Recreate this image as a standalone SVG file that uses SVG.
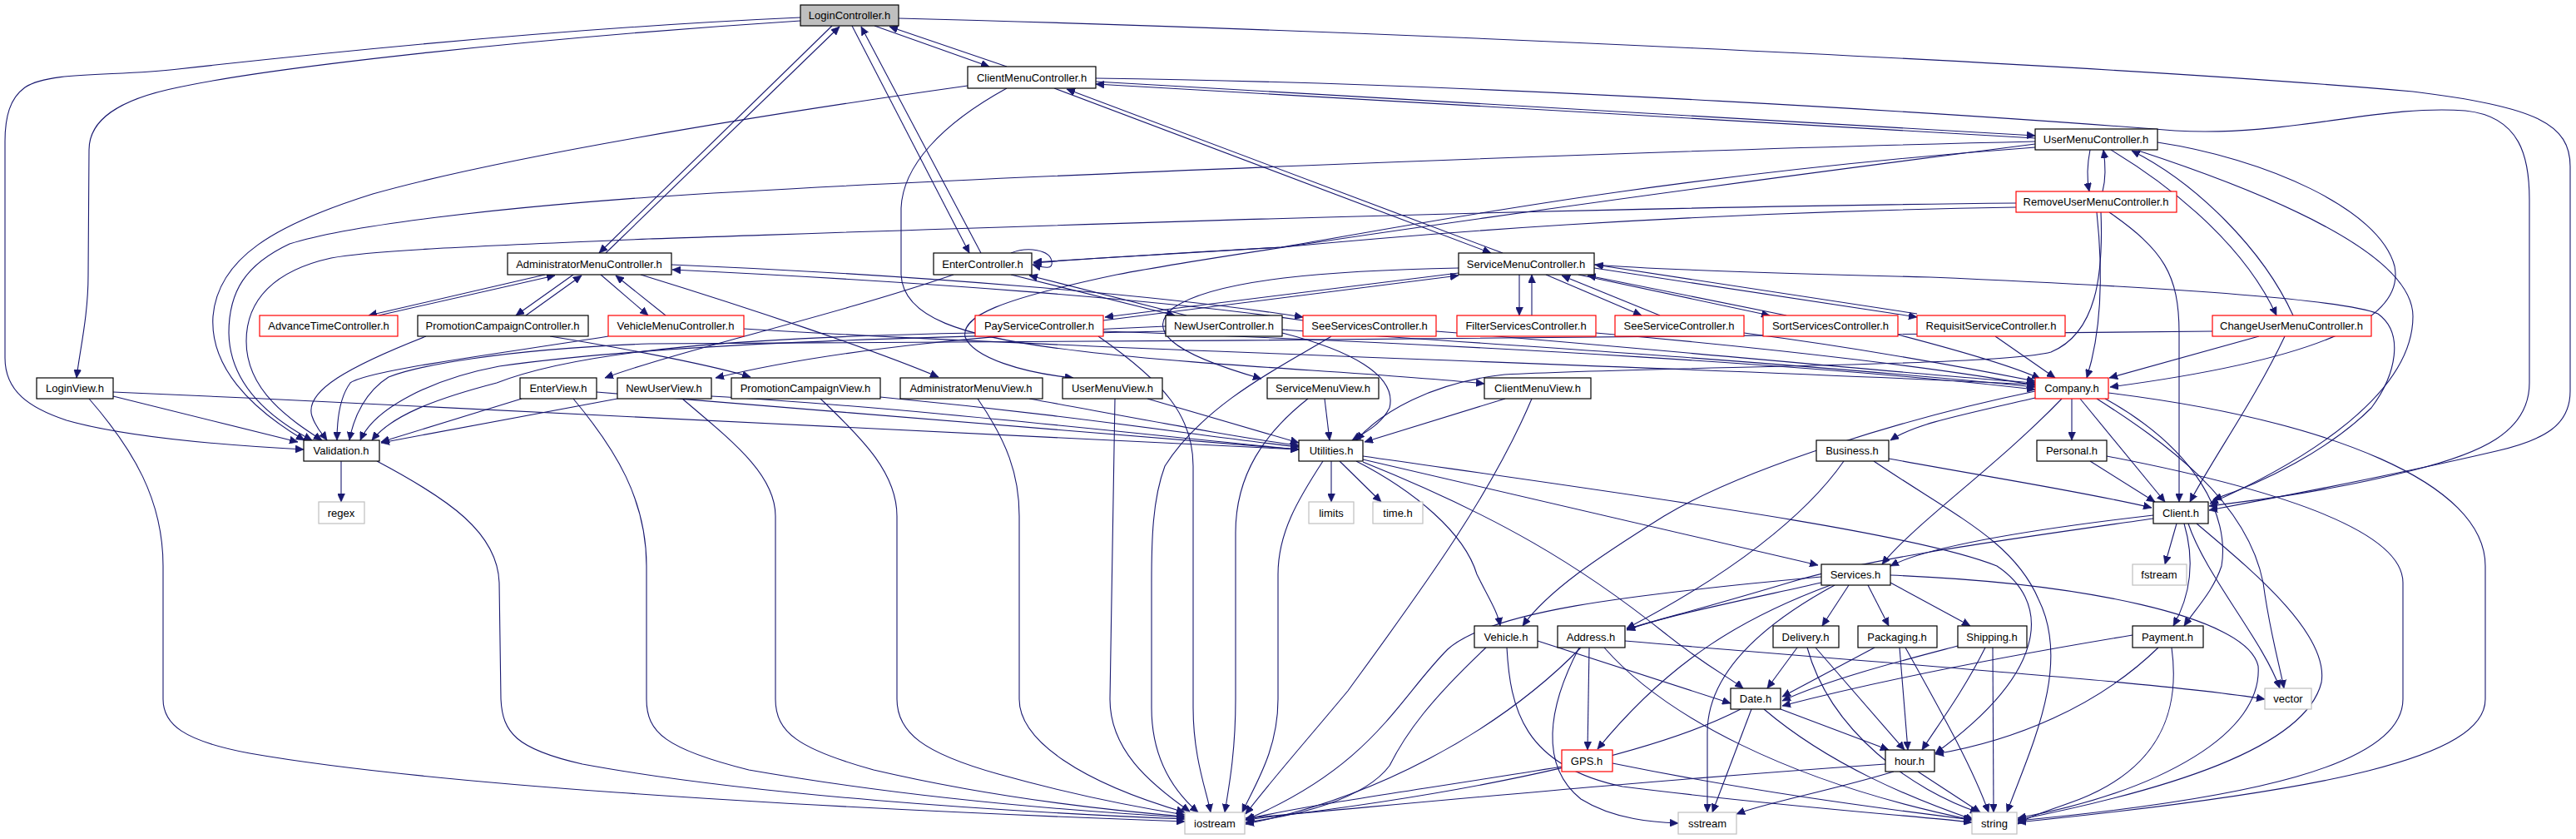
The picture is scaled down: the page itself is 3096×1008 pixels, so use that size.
<svg xmlns="http://www.w3.org/2000/svg" width="3096" height="1008" viewBox="0 0 3096 1008">
<defs>
<marker id="ah" markerUnits="userSpaceOnUse" markerWidth="11" markerHeight="9" refX="10" refY="4.5" orient="auto">
<path d="M0,0 L10,4.5 L0,9 Z" fill="#191970" stroke="#191970" stroke-width="0.6"/>
</marker>
</defs>
<style>
.n rect{fill:#fff;stroke:#000;stroke-width:1.2}
.n.root rect{fill:#bfbfbf}
.n.red rect{stroke:#ff0000}
.n.gray rect{stroke:#bfbfbf}
.n text{font-family:"Liberation Sans",Arial,sans-serif;font-size:13px;text-anchor:middle;fill:#000}
#edges path{fill:none;stroke:#191970;stroke-width:1.1;marker-end:url(#ah)}
</style>
<rect width="3096" height="1008" fill="#fff"/>
<g id="edges">
<path d="M1051,31 L1189,80"/>
<path d="M1210,80 L1069,32"/>
<path d="M1000,31 L720,304"/>
<path d="M728,304 L1009,32"/>
<path d="M1024,31 L1165,304"/>
<path d="M1179,304 L1035,32"/>
<path d="M1215,304 C1235,296 1262,300 1264,314 C1266,324 1256,322 1241,318"/>
<path d="M962,25 C650,45 330,80 214,105 C140,120 107,145 107,180 L106,330 C106,380 96,420 92,454"/>
<path d="M962,21 C650,35 330,70 214,83 C140,92 60,85 30,105 C12,118 6,140 6,170 L6,430 C6,470 35,490 80,505 C150,525 270,535 365,540"/>
<path d="M1080,22 C1600,35 2500,75 2900,110 C3050,128 3089,150 3089,200 L3089,470 C3089,510 3060,528 3000,542 C2880,570 2740,597 2655,613"/>
<path d="M1317,94 C1800,100 2400,140 2614,157 C2750,165 2860,125 2963,133 C3030,140 3040,190 3040,240 L3040,460 C3040,520 2980,545 2900,565 C2800,590 2720,600 2655,608"/>
<path d="M1317,98 L2446,163"/>
<path d="M2446,166 L1317,101"/>
<path d="M1267,106 L1792,304"/>
<path d="M1806,304 L1282,107"/>
<path d="M1163,103 C900,140 600,190 448,233 C330,270 262,310 256,380 C252,440 300,490 366,529"/>
<path d="M2446,170 C2000,180 1100,215 780,237 C600,250 420,270 348,293 C295,318 275,350 275,400 C276,460 320,500 375,529"/>
<path d="M2423,244 C1800,250 1000,280 780,287 C600,295 450,300 398,310 C330,325 296,360 296,410 C296,470 350,505 387,529"/>
<path d="M2446,177 C2000,210 1700,270 1540,297 C1400,305 1300,311 1242,315"/>
<path d="M2423,249 C2000,256 1700,282 1540,297 C1400,305 1300,311 1242,316"/>
<path d="M655,330 L443,379"/>
<path d="M455,379 L667,331"/>
<path d="M689,330 L620,379"/>
<path d="M632,379 L699,331"/>
<path d="M722,330 L779,379"/>
<path d="M800,379 L740,331"/>
<path d="M807,318 C1100,330 1400,355 1566,381"/>
<path d="M1566,385 C1400,360 1100,338 808,324"/>
<path d="M770,330 C900,370 1050,420 1128,453"/>
<path d="M1146,330 C1000,380 820,420 727,454"/>
<path d="M1215,330 L1412,379"/>
<path d="M1426,379 L1237,331"/>
<path d="M661,404 C760,420 860,440 902,453"/>
<path d="M1401,392 C1200,400 1000,420 860,454"/>
<path d="M512,404 C420,440 365,470 375,500 C380,515 388,522 393,529"/>
<path d="M731,404 C600,425 440,445 421,460 C410,475 405,500 405,529"/>
<path d="M1401,398 C1100,405 800,412 600,440 C520,455 450,490 433,529"/>
<path d="M1172,400 C900,405 700,420 597,460 C520,480 470,500 447,529"/>
<path d="M2659,398 C2200,405 1400,410 780,413 C600,420 500,440 467,453 C440,470 425,500 420,529"/>
<path d="M1753,322 C1600,325 1460,335 1410,370 C1380,395 1400,422 1516,455"/>
<path d="M1210,106 C1130,150 1085,200 1083,250 L1083,330 C1085,380 1150,405 1300,422 C1450,440 1650,447 1784,461"/>
<path d="M2446,173 C2000,230 1500,300 1342,330 C1200,360 1155,380 1160,405 C1170,430 1230,448 1290,454"/>
<path d="M1916,318 C2000,325 2200,330 2320,333 C2600,345 2820,360 2858,377 C2890,400 2880,450 2850,490 C2800,540 2720,580 2660,600"/>
<path d="M136,476 L358,531"/>
<path d="M136,471 C700,495 1300,530 1561,540"/>
<path d="M107,479 C160,540 196,600 196,680 L196,840 C196,870 220,890 300,905 C500,940 900,968 1424,987"/>
<path d="M410,554 L410,603"/>
<path d="M453,554 C540,600 598,640 600,700 L602,840 C604,880 620,900 700,918 C900,955 1200,975 1424,984"/>
<path d="M627,479 L458,531"/>
<path d="M717,471 C1000,495 1400,525 1561,540"/>
<path d="M689,479 C740,540 777,600 777,680 L777,840 C777,880 800,900 900,925 C1100,960 1300,975 1424,982"/>
<path d="M742,479 L458,532"/>
<path d="M855,476 C1100,490 1400,525 1561,540"/>
<path d="M820,479 C880,530 932,570 932,620 L932,840 C932,880 960,900 1050,925 C1200,960 1350,975 1424,981"/>
<path d="M1058,477 C1300,500 1450,525 1561,537"/>
<path d="M986,479 C1040,530 1078,570 1078,620 L1078,840 C1078,880 1110,905 1200,930 C1300,958 1380,972 1424,979"/>
<path d="M1237,479 C1380,505 1500,528 1561,535"/>
<path d="M1175,479 C1210,530 1225,570 1225,620 L1225,840 C1225,890 1300,940 1424,976"/>
<path d="M1379,479 L1561,532"/>
<path d="M1340,479 L1334,840 C1334,900 1380,940 1430,975"/>
<path d="M1592,479 L1598,529"/>
<path d="M1572,479 C1520,520 1485,570 1485,640 L1485,840 C1485,900 1478,940 1472,976"/>
<path d="M1809,479 L1640,531"/>
<path d="M1841,479 C1790,600 1700,720 1620,830 C1570,890 1530,935 1497,978"/>
<path d="M1320,404 C1400,460 1434,500 1434,560 L1434,850 C1434,910 1450,950 1455,976"/>
<path d="M1600,404 C1560,430 1450,480 1400,560 C1385,600 1384,650 1384,700 L1384,850 C1384,910 1410,950 1440,976"/>
<path d="M1590,554 C1560,600 1536,640 1536,690 L1536,840 C1536,900 1510,940 1493,976"/>
<path d="M1600,554 L1600,603"/>
<path d="M1610,554 L1660,603"/>
<path d="M1630,554 C1700,590 1760,640 1775,690 C1790,720 1800,735 1803,752"/>
<path d="M1638,555 C1800,620 1900,680 2000,760 C2050,800 2080,815 2095,827"/>
<path d="M1638,552 L2185,679"/>
<path d="M1638,548 C2000,600 2300,640 2400,680 C2460,720 2470,800 2326,905"/>
<path d="M1541,400 C1620,420 1680,450 1670,490 C1660,510 1640,520 1625,529"/>
<path d="M2525,255 C2528,330 2520,400 2465,423 C2400,440 2000,440 1808,450 C1720,460 1660,495 1630,529"/>
<path d="M2537,180 C2620,230 2700,300 2736,379"/>
<path d="M2756,379 C2720,300 2640,220 2562,181"/>
<path d="M2512,180 C2508,200 2508,215 2511,230"/>
<path d="M2527,230 C2531,215 2531,200 2528,180"/>
<path d="M2520,255 C2528,330 2525,400 2508,454"/>
<path d="M2535,255 C2600,300 2619,330 2619,400 L2619,603"/>
<path d="M2593,171 C2720,190 2860,250 2878,320 C2890,380 2800,430 2536,465"/>
<path d="M2570,181 C2750,240 2900,310 2900,380 C2900,470 2780,550 2656,605"/>
<path d="M2398,404 L2470,454"/>
<path d="M2715,404 L2535,454"/>
<path d="M2746,404 C2710,480 2660,550 2632,603"/>
<path d="M894,395 C1300,420 2000,440 2446,462"/>
<path d="M1541,396 C1900,420 2200,440 2446,465"/>
<path d="M1326,398 C1800,415 2200,440 2446,468"/>
<path d="M1726,398 C2000,420 2300,450 2446,460"/>
<path d="M1918,400 C2150,420 2350,445 2446,463"/>
<path d="M2096,400 C2250,420 2380,445 2446,458"/>
<path d="M2281,402 C2350,420 2420,440 2452,455"/>
<path d="M1753,328 L1328,381"/>
<path d="M1326,385 L1753,331"/>
<path d="M1826,330 L1826,379"/>
<path d="M1841,379 L1841,330"/>
<path d="M1858,330 L1973,379"/>
<path d="M1995,379 L1877,331"/>
<path d="M1897,330 L2127,379"/>
<path d="M2147,379 L1908,331"/>
<path d="M1916,322 L2304,381"/>
<path d="M2304,377 L1917,318"/>
<path d="M2490,479 L2490,529"/>
<path d="M2500,479 L2602,603"/>
<path d="M2446,478 C2350,500 2300,510 2272,529"/>
<path d="M2478,479 C2400,560 2300,630 2262,678"/>
<path d="M2446,470 C2300,500 2100,560 2000,620 C1920,670 1860,710 1830,752"/>
<path d="M2520,479 C2600,530 2700,600 2720,700 C2728,760 2740,800 2745,827"/>
<path d="M2530,479 C2640,540 2680,620 2670,680 C2660,710 2640,730 2625,752"/>
<path d="M2534,472 C2800,505 2987,580 2987,680 L2987,840 C2987,910 2800,950 2425,988"/>
<path d="M2588,619 C2450,635 2320,655 2272,680"/>
<path d="M2588,623 C2400,650 2250,670 2150,700 C2050,730 1990,745 1955,756"/>
<path d="M2616,629 L2602,678"/>
<path d="M2625,629 C2640,680 2630,720 2612,752"/>
<path d="M2630,629 C2650,690 2720,770 2740,827"/>
<path d="M2640,629 C2700,680 2800,760 2790,820 C2770,900 2600,950 2425,985"/>
<path d="M2512,554 L2590,603"/>
<path d="M2532,548 C2750,590 2888,640 2888,700 L2888,840 C2888,920 2700,960 2425,986"/>
<path d="M2270,551 C2400,575 2500,590 2586,610"/>
<path d="M2216,554 C2170,620 2080,690 1955,755"/>
<path d="M2252,554 C2350,620 2420,650 2450,720 C2490,800 2440,900 2412,976"/>
<path d="M2189,700 C2100,720 2000,740 1955,757"/>
<path d="M2222,703 L2190,752"/>
<path d="M2245,703 L2270,752"/>
<path d="M2272,700 L2368,752"/>
<path d="M2189,693 C1950,715 1790,735 1740,780 C1680,840 1650,920 1497,985"/>
<path d="M2200,703 C2100,740 2010,790 1920,900"/>
<path d="M2205,703 C2100,760 2052,820 2052,880 L2052,976"/>
<path d="M2272,691 C2500,700 2700,740 2714,800 C2720,880 2600,950 2425,983"/>
<path d="M1848,770 L2080,845"/>
<path d="M1786,778 C1720,840 1690,880 1670,920 C1640,960 1560,980 1497,988"/>
<path d="M1811,778 C1815,850 1830,920 1950,945 C2150,970 2300,980 2370,988"/>
<path d="M1910,778 L1908,901"/>
<path d="M1900,778 C1800,880 1650,960 1497,990"/>
<path d="M1898,778 C1860,850 1850,920 1900,960 C1940,985 1990,988 2017,989"/>
<path d="M1928,778 C2000,860 2150,940 2370,985"/>
<path d="M1953,770 C2300,800 2600,820 2722,840"/>
<path d="M2160,778 L2124,827"/>
<path d="M2182,778 L2289,901"/>
<path d="M2172,778 C2200,880 2300,950 2378,976"/>
<path d="M2253,778 L2142,837"/>
<path d="M2283,778 L2293,901"/>
<path d="M2290,778 C2330,850 2370,920 2390,976"/>
<path d="M2353,776 C2300,790 2200,815 2142,842"/>
<path d="M2386,778 C2360,830 2330,870 2310,901"/>
<path d="M2395,778 L2396,976"/>
<path d="M2563,763 C2400,790 2250,820 2142,848"/>
<path d="M2594,778 C2520,850 2420,890 2326,906"/>
<path d="M2610,778 C2620,850 2600,920 2500,960 C2460,975 2440,980 2425,990"/>
<path d="M2140,852 L2270,901"/>
<path d="M2092,852 C2000,900 1800,950 1497,985"/>
<path d="M2105,852 L2058,976"/>
<path d="M2120,852 C2200,920 2300,960 2372,985"/>
<path d="M1877,921 C1700,950 1550,970 1497,985"/>
<path d="M1938,917 C2100,950 2250,970 2370,985"/>
<path d="M2266,918 C1950,940 1700,965 1497,983"/>
<path d="M2276,927 C2200,950 2120,965 2087,978"/>
<path d="M2305,927 L2380,976"/>
</g>
<g id="n_LoginController" class="n root"><rect x="962" y="6" width="118" height="25"/><text x="1021" y="23">LoginController.h</text></g>
<g id="n_ClientMenuController" class="n"><rect x="1163" y="80" width="154" height="26"/><text x="1240" y="98">ClientMenuController.h</text></g>
<g id="n_UserMenuController" class="n"><rect x="2446" y="155" width="147" height="25"/><text x="2519" y="172">UserMenuController.h</text></g>
<g id="n_RemoveUserMenuController" class="n red"><rect x="2423" y="230" width="193" height="25"/><text x="2519" y="247">RemoveUserMenuController.h</text></g>
<g id="n_AdministratorMenuController" class="n"><rect x="610" y="304" width="197" height="26"/><text x="708" y="322">AdministratorMenuController.h</text></g>
<g id="n_EnterController" class="n"><rect x="1122" y="304" width="118" height="26"/><text x="1181" y="322">EnterController.h</text></g>
<g id="n_ServiceMenuController" class="n"><rect x="1753" y="304" width="163" height="26"/><text x="1834" y="322">ServiceMenuController.h</text></g>
<g id="n_AdvanceTimeController" class="n red"><rect x="312" y="379" width="166" height="25"/><text x="395" y="396">AdvanceTimeController.h</text></g>
<g id="n_PromotionCampaignController" class="n"><rect x="502" y="379" width="205" height="25"/><text x="604" y="396">PromotionCampaignController.h</text></g>
<g id="n_VehicleMenuController" class="n red"><rect x="731" y="379" width="163" height="25"/><text x="812" y="396">VehicleMenuController.h</text></g>
<g id="n_PayServiceController" class="n red"><rect x="1172" y="379" width="154" height="25"/><text x="1249" y="396">PayServiceController.h</text></g>
<g id="n_NewUserController" class="n"><rect x="1401" y="379" width="140" height="25"/><text x="1471" y="396">NewUserController.h</text></g>
<g id="n_SeeServicesController" class="n red"><rect x="1566" y="379" width="160" height="25"/><text x="1646" y="396">SeeServicesController.h</text></g>
<g id="n_FilterServicesController" class="n red"><rect x="1751" y="379" width="167" height="25"/><text x="1834" y="396">FilterServicesController.h</text></g>
<g id="n_SeeServiceController" class="n red"><rect x="1941" y="379" width="155" height="25"/><text x="2018" y="396">SeeServiceController.h</text></g>
<g id="n_SortServicesController" class="n red"><rect x="2119" y="379" width="162" height="25"/><text x="2200" y="396">SortServicesController.h</text></g>
<g id="n_RequisitServiceController" class="n red"><rect x="2304" y="379" width="178" height="25"/><text x="2393" y="396">RequisitServiceController.h</text></g>
<g id="n_ChangeUserMenuController" class="n red"><rect x="2659" y="379" width="191" height="25"/><text x="2754" y="396">ChangeUserMenuController.h</text></g>
<g id="n_LoginView" class="n"><rect x="44" y="454" width="92" height="25"/><text x="90" y="471">LoginView.h</text></g>
<g id="n_EnterView" class="n"><rect x="625" y="454" width="92" height="25"/><text x="671" y="471">EnterView.h</text></g>
<g id="n_NewUserView" class="n"><rect x="742" y="454" width="113" height="25"/><text x="798" y="471">NewUserView.h</text></g>
<g id="n_PromotionCampaignView" class="n"><rect x="879" y="454" width="179" height="25"/><text x="968" y="471">PromotionCampaignView.h</text></g>
<g id="n_AdministratorMenuView" class="n"><rect x="1082" y="454" width="171" height="25"/><text x="1167" y="471">AdministratorMenuView.h</text></g>
<g id="n_UserMenuView" class="n"><rect x="1277" y="454" width="120" height="25"/><text x="1337" y="471">UserMenuView.h</text></g>
<g id="n_ServiceMenuView" class="n"><rect x="1523" y="454" width="134" height="25"/><text x="1590" y="471">ServiceMenuView.h</text></g>
<g id="n_ClientMenuView" class="n"><rect x="1784" y="454" width="128" height="25"/><text x="1848" y="471">ClientMenuView.h</text></g>
<g id="n_Company" class="n red"><rect x="2446" y="454" width="88" height="25"/><text x="2490" y="471">Company.h</text></g>
<g id="n_Validation" class="n"><rect x="365" y="529" width="91" height="25"/><text x="410" y="546">Validation.h</text></g>
<g id="n_Utilities" class="n"><rect x="1561" y="529" width="77" height="25"/><text x="1600" y="546">Utilities.h</text></g>
<g id="n_Business" class="n"><rect x="2183" y="529" width="87" height="25"/><text x="2226" y="546">Business.h</text></g>
<g id="n_Personal" class="n"><rect x="2448" y="529" width="84" height="25"/><text x="2490" y="546">Personal.h</text></g>
<g id="n_regex" class="n gray"><rect x="383" y="603" width="55" height="26"/><text x="410" y="621">regex</text></g>
<g id="n_limits" class="n gray"><rect x="1573" y="603" width="54" height="26"/><text x="1600" y="621">limits</text></g>
<g id="n_time" class="n gray"><rect x="1650" y="603" width="60" height="26"/><text x="1680" y="621">time.h</text></g>
<g id="n_Client" class="n"><rect x="2588" y="603" width="66" height="26"/><text x="2621" y="621">Client.h</text></g>
<g id="n_fstream" class="n gray"><rect x="2563" y="678" width="65" height="25"/><text x="2595" y="695">fstream</text></g>
<g id="n_Services" class="n"><rect x="2189" y="678" width="83" height="25"/><text x="2230" y="695">Services.h</text></g>
<g id="n_Vehicle" class="n"><rect x="1772" y="752" width="76" height="26"/><text x="1810" y="770">Vehicle.h</text></g>
<g id="n_Address" class="n"><rect x="1872" y="752" width="81" height="26"/><text x="1912" y="770">Address.h</text></g>
<g id="n_Delivery" class="n"><rect x="2131" y="752" width="79" height="26"/><text x="2170" y="770">Delivery.h</text></g>
<g id="n_Packaging" class="n"><rect x="2233" y="752" width="95" height="26"/><text x="2280" y="770">Packaging.h</text></g>
<g id="n_Shipping" class="n"><rect x="2353" y="752" width="83" height="26"/><text x="2394" y="770">Shipping.h</text></g>
<g id="n_Payment" class="n"><rect x="2563" y="752" width="85" height="26"/><text x="2605" y="770">Payment.h</text></g>
<g id="n_Date" class="n"><rect x="2080" y="827" width="60" height="25"/><text x="2110" y="844">Date.h</text></g>
<g id="n_vector" class="n gray"><rect x="2722" y="827" width="56" height="25"/><text x="2750" y="844">vector</text></g>
<g id="n_GPS" class="n red"><rect x="1877" y="901" width="61" height="26"/><text x="1907" y="919">GPS.h</text></g>
<g id="n_hour" class="n"><rect x="2266" y="901" width="59" height="26"/><text x="2295" y="919">hour.h</text></g>
<g id="n_iostream" class="n gray"><rect x="1424" y="976" width="72" height="26"/><text x="1460" y="994">iostream</text></g>
<g id="n_sstream" class="n gray"><rect x="2017" y="976" width="70" height="26"/><text x="2052" y="994">sstream</text></g>
<g id="n_string" class="n gray"><rect x="2370" y="976" width="54" height="26"/><text x="2397" y="994">string</text></g>
</svg>
